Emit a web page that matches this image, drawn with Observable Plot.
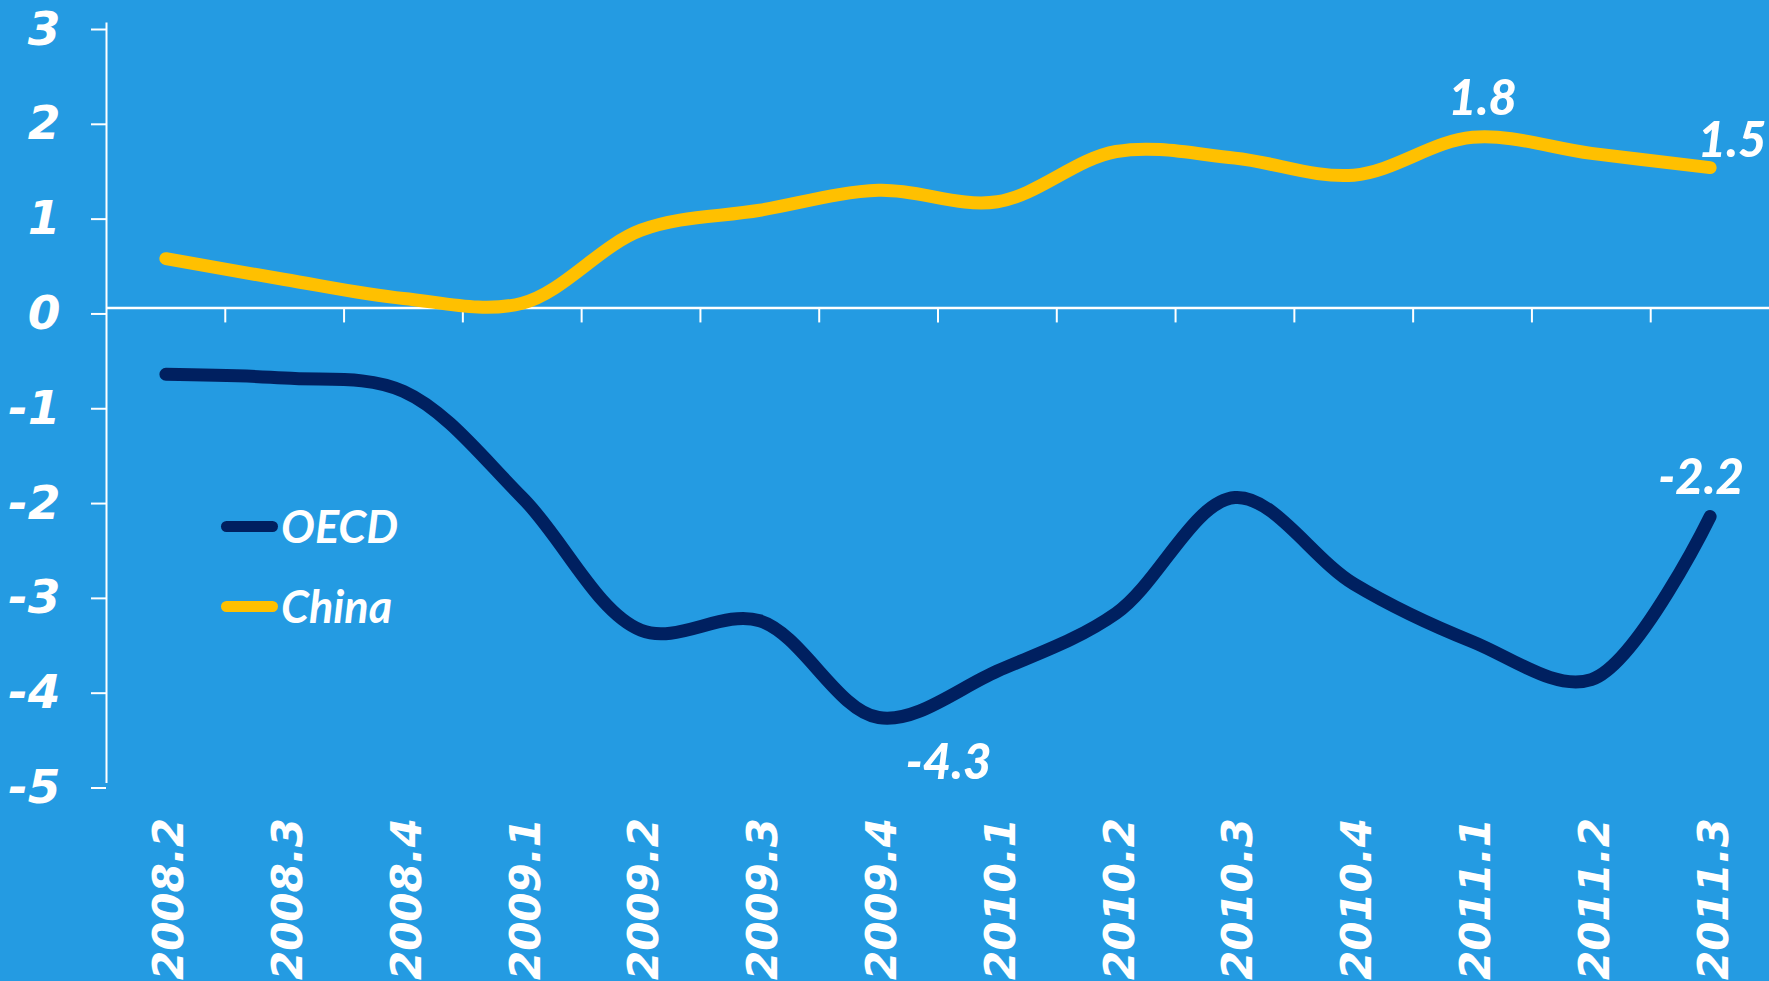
<!DOCTYPE html>
<html>
<head>
<meta charset="utf-8">
<script src="https://cdn.jsdelivr.net/npm/d3@7"></script>
<script src="https://cdn.jsdelivr.net/npm/@observablehq/plot@0.6"></script>
<style>
  html, body { margin: 0; padding: 0; background: #249BE2; overflow: hidden; }
  #wrap { position: relative; width: 1769px; height: 981px; }
  #legend { position: absolute; left: 0; top: 0; pointer-events: none; }
  .lg { position: absolute; display: flex; align-items: center; font-family: Lato, sans-serif;
        font-weight: 700; font-style: italic; font-size: 45px; color: white; }
  .sw { display: inline-block; width: 57px; height: 11px; border-radius: 6px; margin-right: 3px; }
</style>
</head>
<body>
<div id="wrap"></div>
<script>
// ---- data ----
const quarters = ["2008.2","2008.3","2008.4","2009.1","2009.2","2009.3","2009.4","2010.1","2010.2","2010.3","2010.4","2011.1","2011.2","2011.3"];
const oecd  = [-0.70, -0.74, -0.88, -2.00, -3.40, -3.30, -4.32, -3.83, -3.22, -2.00, -2.91, -3.52, -3.92, -2.20];
const china = [0.52, 0.30, 0.10, 0.05, 0.82, 1.03, 1.24, 1.12, 1.65, 1.58, 1.40, 1.80, 1.63, 1.48];
const seriesNames = ["OECD", "China"];
const seriesColors = ["#002060", "#FFC000"];
const yTicks = [-5, -4, -3, -2, -1, 0, 1, 2, 3];
// labelled points: series, quarter, text
const labelSeries = ["China", "China", "OECD", "OECD"];
const labelQuarter = ["2011.1", "2011.3", "2011.3", "2009.4"];
const labelText = ["1.8", "1.5", "-2.2", "-4.3"];

// ---- build table ----
const rows = [];
quarters.forEach((q, i) => {
  rows.push({series: "OECD", i, q, v: oecd[i]});
  rows.push({series: "China", i, q, v: china[i]});
});
const labels = labelSeries.map((s, k) => {
  const i = quarters.indexOf(labelQuarter[k]);
  return {series: s, i, v: s === "OECD" ? oecd[i] : china[i], text: labelText[k], k};
});
const labelDx = [10, 22, -9, 70];
const labelDy = [-38, -26, -38, 46];
const boundaries = d3.range(quarters.length - 1).map(i => i + 0.5);

const font = "Lato, 'DejaVu Sans', sans-serif";
const tickFont = "'DejaVu Sans', sans-serif";

const chart = Plot.plot({
  width: 1769,
  height: 981,
  marginLeft: 106,
  marginRight: 0,
  marginTop: 23,
  marginBottom: 199.5,
  style: {background: "#249BE2", color: "white", fontFamily: font, overflow: "visible"},
  x: {type: "linear", domain: [-0.5, quarters.length - 0.5], axis: null},
  y: {domain: [-5, 3], axis: null},
  marks: [
    Plot.frame({anchor: "left", stroke: "white", strokeWidth: 2}),
    Plot.ruleY([0], {stroke: "white", strokeWidth: 2.5}),
    Plot.ruleX(boundaries, {x: d => d, y1: 0, y2: 0, insetBottom: -15, stroke: "white", strokeWidth: 2}),
    Plot.axisY({
      ticks: yTicks, tickSize: 15, tickPadding: 31, tickFormat: d => String(d),
      stroke: "white", strokeWidth: 2, fill: "white", label: null,
      fontFamily: tickFont, fontSize: 47, fontWeight: "bold", fontStyle: "italic", dy: 6
    }),
    Plot.axisX({
      ticks: d3.range(quarters.length), tickFormat: i => quarters[i], tickSize: 0,
      tickRotate: -90, tickPadding: 36, fill: "white", label: null,
      fontFamily: tickFont, fontSize: 42, fontWeight: "bold", fontStyle: "italic", dx: 4
    }),
    ...seriesNames.map((s, k) =>
      Plot.line(rows.filter(r => r.series === s), {
        x: "i", y: "v", stroke: seriesColors[k], strokeWidth: 13,
        curve: "catmull-rom", strokeLinecap: "round", strokeLinejoin: "round"
      })
    ),
    ...labels.map(l =>
      Plot.text([l], {
        x: "i", y: "v", text: "text", fill: "white", dx: labelDx[l.k], dy: labelDy[l.k],
        fontFamily: font, fontSize: 49, fontWeight: 900, fontStyle: "italic"
      })
    )
  ]
});

const wrap = document.getElementById("wrap");
wrap.appendChild(chart);

// legend overlay
const legend = document.createElement("div");
legend.id = "legend";
const legendTop = [526, 606];
seriesNames.forEach((s, k) => {
  const item = document.createElement("div");
  item.className = "lg";
  item.style.left = "221px";
  item.style.top = (legendTop[k] - 30) + "px";
  item.style.height = "60px";
  const sw = document.createElement("span");
  sw.className = "sw";
  sw.style.background = seriesColors[k];
  const t = document.createElement("span");
  t.textContent = s;
  item.appendChild(sw);
  item.appendChild(t);
  legend.appendChild(item);
});
wrap.appendChild(legend);
</script>
</body>
</html>
